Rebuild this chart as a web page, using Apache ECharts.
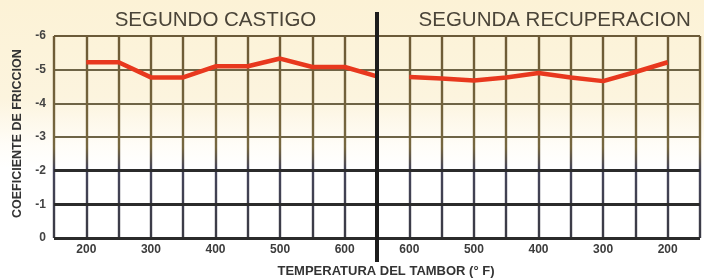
<!DOCTYPE html>
<html>
<head>
<meta charset="utf-8">
<script src="https://cdn.jsdelivr.net/npm/echarts@6/dist/echarts.min.js"></script>
<style>
html,body{margin:0;padding:0;}
#chart{width:704px;height:280px;background:linear-gradient(to bottom,#fcf2d6 0%,#fcf4de 35%,#fffdf8 52%,#ffffff 60%);}
</style>
</head>
<body>
<div id="chart"></div>
<script>
// Tick labels at each grid column (0..20), temperatures in °F
const xTickLabels = ['', '200', '', '300', '', '400', '', '500', '', '600', '', '600', '', '500', '', '400', '', '300', '', '200', ''];
const panelTitles = ['SEGUNDO CASTIGO', 'SEGUNDA RECUPERACION'];
const yAxisName = 'COEFICIENTE DE FRICCION';
const xAxisName = 'TEMPERATURA DEL TAMBOR (\u00B0 F)';
// Column index positions of points
const castigoX = [1, 2, 3, 4, 5, 6, 7, 8, 9, 10];
const castigoValues = [-5.22, -5.22, -4.77, -4.77, -5.1, -5.1, -5.33, -5.08, -5.08, -4.8];
const recuperacionX = [11, 12, 13, 14, 15, 16, 17, 18, 19];
const recuperacionValues = [-4.78, -4.74, -4.68, -4.77, -4.9, -4.77, -4.66, -4.93, -5.22];
const dividerX = 10;

const chart = echarts.init(document.getElementById('chart'));
const lineRed = '#e8381e';
const narrow = "'Liberation Sans Narrow', 'Liberation Sans', Arial, sans-serif";

const vGrad = new echarts.graphic.LinearGradient(0, 36, 0, 238, [
  {offset: 0, color: '#6d5a35'},
  {offset: 0.55, color: '#76673f'},
  {offset: 0.66, color: '#45455a'},
  {offset: 1, color: '#3a3a44'}
], true);

chart.setOption({
  animation: false,
  grid: {left: 54, right: 4, top: 36, bottom: 42},
  xAxis: {
    type: 'value', min: 0, max: 20, interval: 1,
    axisLine: {show: false},
    axisTick: {show: false},
    axisLabel: {
      margin: 6,
      fontFamily: narrow, fontWeight: 'bold', fontSize: 12, color: '#3c3c3c',
      formatter: v => xTickLabels[v] || ''
    },
    splitLine: {show: true, lineStyle: {color: vGrad, width: 2.4}}
  },
  yAxis: {
    type: 'value', inverse: true, min: -6, max: 0, interval: 1,
    axisLine: {show: false},
    axisTick: {show: false},
    axisLabel: {margin: 8, fontFamily: narrow, fontWeight: 'bold', fontSize: 12, color: '#444'},
    splitLine: {show: true, lineStyle: {
      color: ['#6b5a38', '#6e6446', '#6e6446', '#6e6446', '#2b2b2b', '#2b2b2b', '#2b2b2b'],
      width: 2
    }}
  },
  series: [
    {
      type: 'line', data: castigoX.map((x, i) => [x, castigoValues[i]]),
      showSymbol: false, symbol: 'none',
      lineStyle: {color: lineRed, width: 4.5}, z: 5,
      markLine: {
        silent: true, symbol: 'none', label: {show: false},
        lineStyle: {color: '#2b2b2b', width: 3, type: 'solid'},
        data: [{yAxis: -2}, {yAxis: -1}, {yAxis: 0}]
      }
    },
    {
      type: 'line', data: recuperacionX.map((x, i) => [x, recuperacionValues[i]]),
      showSymbol: false, symbol: 'none',
      lineStyle: {color: lineRed, width: 4.5}, z: 5
    }
  ]
});

const dx = chart.convertToPixel({xAxisIndex: 0}, dividerX);
const leftMid = chart.convertToPixel({xAxisIndex: 0}, 5);
const rightMid = chart.convertToPixel({xAxisIndex: 0}, 15.5);
const yMid = chart.convertToPixel({yAxisIndex: 0}, -3.1);
chart.setOption({
  graphic: [
    {type: 'rect', shape: {x: dx - 2, y: 12, width: 4, height: 250}, style: {fill: '#1c1c1c'}, z: 10},
    {type: 'text', x: leftMid, y: 20, style: {text: panelTitles[0], fontFamily: "'Liberation Sans', Arial, sans-serif", fontSize: 20.5, fill: '#4a4438', align: 'center', verticalAlign: 'middle'}},
    {type: 'text', x: rightMid, y: 20, style: {text: panelTitles[1], fontFamily: "'Liberation Sans', Arial, sans-serif", fontSize: 20.5, fill: '#4a4438', align: 'center', verticalAlign: 'middle'}},
    {type: 'text', x: dx + 9, y: 271, style: {text: xAxisName, fontFamily: narrow, fontWeight: 'bold', fontSize: 13, fill: '#333', align: 'center', verticalAlign: 'middle'}},
    {type: 'text', x: 18, y: yMid, rotation: Math.PI / 2, style: {text: yAxisName, fontFamily: narrow, fontWeight: 'bold', fontSize: 12.5, fill: '#333', align: 'center', verticalAlign: 'middle'}}
  ]
});
</script>
</body>
</html>
